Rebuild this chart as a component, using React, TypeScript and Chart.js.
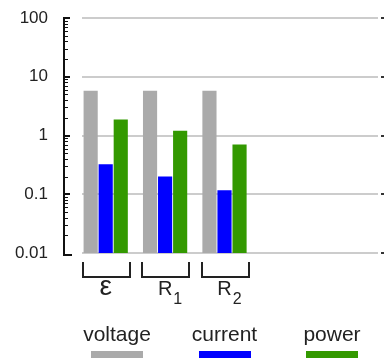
import React, { useEffect, useRef } from 'react';
import { Chart, registerables } from 'chart.js';

Chart.register(...registerables);

const categories = ['ε', 'R₁', 'R₂', '', ''];
const seriesNames = ['voltage', 'current', 'power'];
const voltage = [5.8, 5.8, 5.8, null, null];
const current = [0.325, 0.2, 0.117, null, null];
const power = [1.87, 1.2, 0.7, null, null];
const seriesColors = ['#aaaaaa', '#0000ff', '#339900'];
const yTickValues = [0.01, 0.1, 1, 10, 100];
const yTickLabels = ['0.01', '0.1', '1', '10', '100'];

const FONT = '"Liberation Sans", Arial, sans-serif';
const SUBS: Record<string, string> = {
  '₀': '0', '₁': '1', '₂': '2', '₃': '3', '₄': '4',
  '₅': '5', '₆': '6', '₇': '7', '₈': '8', '₉': '9',
};

const decor = {
  id: 'decor',
  beforeDatasetsDraw(chart: any) {
    const { ctx, chartArea, scales } = chart;
    const y = scales.y;
    ctx.save();
    yTickValues.forEach((v) => {
      const py = Math.round(y.getPixelForValue(v));
      ctx.fillStyle = '#cccccc';
      ctx.fillRect(chartArea.left + 6, py - 1, chartArea.right + 5 - (chartArea.left + 6), 2);
      ctx.fillStyle = '#333333';
      ctx.fillRect(chartArea.right + 8, py - 1, 3, 2);
    });
    ctx.restore();
  },
  afterDraw(chart: any) {
    const { ctx, chartArea, scales } = chart;
    const y = scales.y;
    const x = scales.x;
    ctx.save();
    // y axis
    const ax = chartArea.left - 13;
    const top = Math.round(y.getPixelForValue(100));
    const bot = Math.round(y.getPixelForValue(0.01));
    ctx.fillStyle = '#111111';
    ctx.fillRect(ax, top, 2, bot + 3 - top);
    ctx.fillRect(ax, bot + 1, 9, 2);
    for (let d = 0; d < yTickValues.length; d++) {
      const dec = yTickValues[d];
      if (d > 0) {
        const py = Math.round(y.getPixelForValue(dec));
        ctx.fillRect(ax, py - 1, 7, 2);
      }
      if (d < yTickValues.length - 1) {
        for (let k = 2; k <= 9; k++) {
          const py = Math.round(y.getPixelForValue(dec * k));
          ctx.fillRect(ax, py, 5, 1);
        }
      }
    }
    // brackets and category labels
    ctx.fillStyle = '#222222';
    categories.forEach((label, i) => {
      if (!label) return;
      const cx = x.getPixelForValue(i);
      const b0 = chartArea.bottom + 9;
      const b1 = chartArea.bottom + 24;
      const l = Math.round(cx - 24);
      const r = Math.round(cx + 23);
      ctx.fillRect(l, b0, 2, b1 - b0 + 1);
      ctx.fillRect(r, b0, 2, b1 - b0 + 1);
      ctx.fillRect(l, b1 - 1, r - l + 2, 2);
      let base = label;
      let sub = '';
      const last = label[label.length - 1];
      if (SUBS[last]) {
        base = label.slice(0, -1);
        sub = SUBS[last];
      }
      const baseline = chartArea.bottom + 42;
      ctx.textBaseline = 'alphabetic';
      ctx.textAlign = 'center';
      if (base === 'ε') {
        ctx.font = `28px ${FONT}`;
      } else {
        ctx.font = `20px ${FONT}`;
      }
      ctx.fillText(base, cx, baseline);
      if (sub) {
        const w = ctx.measureText(base).width;
        ctx.font = `16px ${FONT}`;
        ctx.textAlign = 'left';
        ctx.fillText(sub, cx + w / 2 + 1, baseline + 9);
      }
    });
    // legend
    const mid = (chartArea.left + chartArea.right) / 2;
    const step = 107.5;
    seriesNames.forEach((name, i) => {
      const cx = mid + (i - 1) * step;
      ctx.font = `21px ${FONT}`;
      ctx.textAlign = 'center';
      ctx.textBaseline = 'alphabetic';
      ctx.fillStyle = '#222222';
      ctx.fillText(name, cx, chartArea.bottom + 88);
      ctx.fillStyle = seriesColors[i];
      ctx.fillRect(Math.round(cx - 26), chartArea.bottom + 98, 52, 12);
    });
    ctx.restore();
  },
};

export default function App() {
  const ref = useRef<HTMLCanvasElement>(null);
  useEffect(() => {
    if (!ref.current) return;
    const seriesData = [voltage, current, power];
    const chart = new Chart(ref.current, {
      type: 'bar',
      data: {
        labels: categories,
        datasets: seriesNames.map((name, i) => ({
          label: name,
          data: seriesData[i],
          backgroundColor: seriesColors[i],
          borderWidth: 0,
          categoryPercentage: 0.76,
          barPercentage: 0.94,
        })),
      },
      options: {
        animation: false,
        responsive: false,
        layout: { padding: { top: 18, bottom: 105, right: 12, left: 0 } },
        plugins: { legend: { display: false }, tooltip: { enabled: false } },
        scales: {
          x: { type: 'category', display: false, offset: true },
          y: {
            type: 'logarithmic',
            min: 0.01,
            max: 100,
            afterBuildTicks: (scale: any) => {
              scale.ticks = yTickValues.map((v) => ({ value: v }));
            },
            afterFit: (scale: any) => {
              scale.width = 76;
              scale.paddingTop = 0;
              scale.paddingBottom = 0;
            },
            grid: { display: false, drawTicks: false, tickLength: 0 },
            border: { display: false },
            ticks: {
              autoSkip: false,
              padding: 28,
              color: '#222222',
              font: { family: FONT, size: 17 },
              callback: (_v: any, index: number) => yTickLabels[index],
            },
          },
        },
      },
      plugins: [decor],
    } as any);
    return () => chart.destroy();
  }, []);
  return (
    <div style={{ position: 'fixed', left: 0, top: 0, width: 385, height: 358, background: '#fff' }}>
      <canvas ref={ref} width={385} height={358} style={{ display: 'block' }} />
    </div>
  );
}
